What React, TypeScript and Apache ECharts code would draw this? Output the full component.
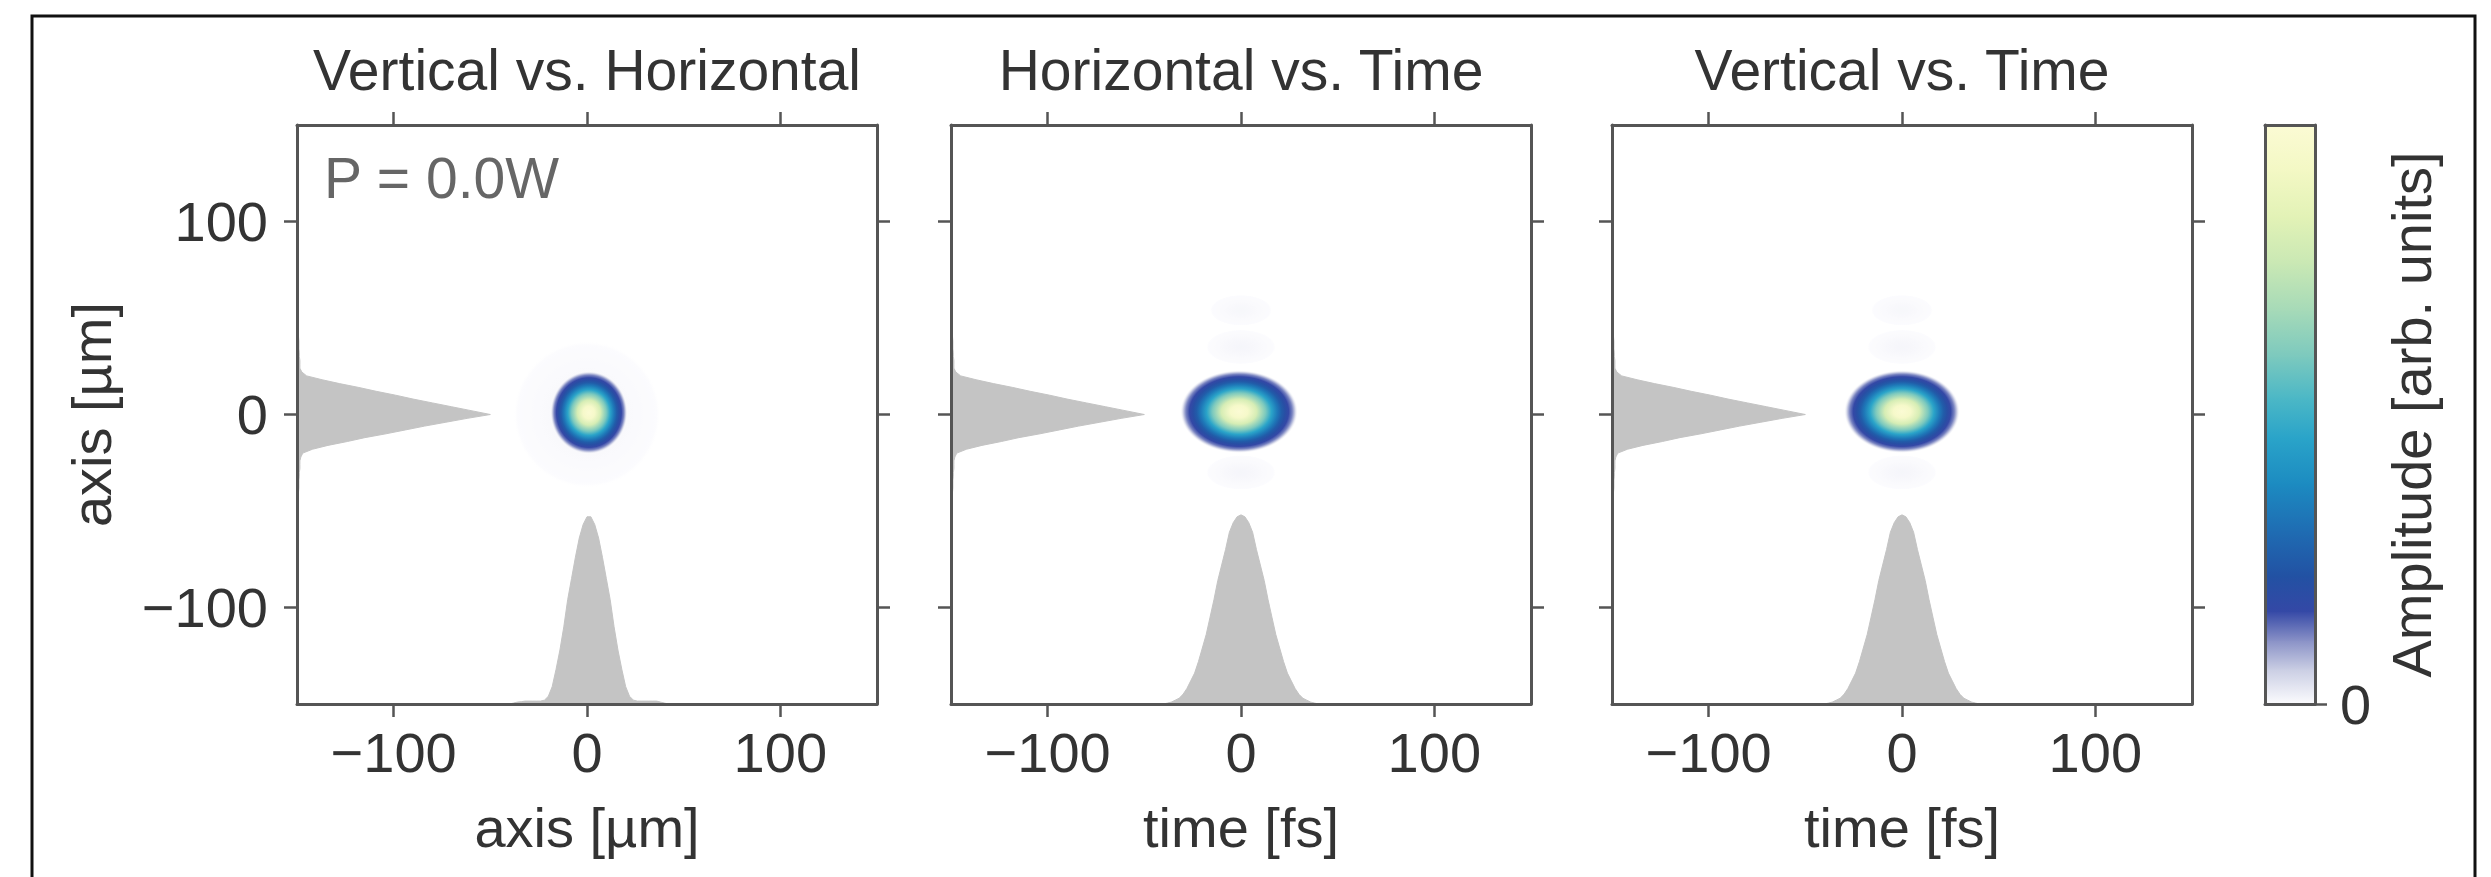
import React, { useEffect, useRef } from "react";
import * as echarts from "echarts";

// ---------- axes & text ----------
const AXIS_MIN = -150;
const AXIS_MAX = 150;
const tickValues = [-100, 0, 100];

const panelTitles = ["Vertical vs. Horizontal", "Horizontal vs. Time", "Vertical vs. Time"];
const panelXNames = ["axis [µm]", "time [fs]", "time [fs]"];
const panelYName = "axis [µm]";
const annotation = "P = 0.0W";
const colorbarName = "Amplitude [arb. units]";
const colorbarTickValues = [0];

// ---------- colormap (bottom = 0, top = 1) ----------
const cmapPos = [0, 0.06, 0.11, 0.16, 0.22, 0.3, 0.38, 0.46, 0.53, 0.6, 0.68, 0.76, 0.84, 0.92, 1];
const cmapColors = [
  "#fcfcfe", "#c9cde3", "#8890c6", "#3448a6", "#2251a3", "#1f6db3", "#1c8bc1",
  "#2aa4c9", "#4db8c6", "#7cc9be", "#a6dab8", "#c9e8b4", "#e2f2b6", "#f3f8c4", "#fbfbd4",
];

// ---------- beam spot radial amplitude profile (fraction of outer radius) ----------
const spotRadius = [0, 0.15, 0.3, 0.45, 0.55, 0.65, 0.72, 0.78, 0.84, 0.9, 0.95, 1];
const spotAmplitude = [1, 0.95, 0.8, 0.6, 0.46, 0.33, 0.25, 0.2, 0.16, 0.12, 0.05, 0];

// [centre x, centre y, outer half-width x, outer half-width y, peak amplitude]
const spotsVertHoriz = [
  [0, 0, 38, 38, 0.008],
  [1, 1, 20, 21.5, 1],
];
const spotsHorizTime = [
  [0, 54, 16, 8, 0.006],
  [0, 35, 18, 9, 0.008],
  [0, -30, 18, 9, 0.008],
  [-1, 1.5, 30.5, 21.5, 1],
];
const spotsVertTime = [
  [0, 54, 16, 8, 0.006],
  [0, 35, 18, 9, 0.008],
  [0, -30, 18, 9, 0.008],
  [0, 1.5, 30, 21.5, 1],
];

// ---------- marginal histograms (bin centre, count) ----------
const leftMarginBins = [
  -44, -42, -40, -38, -36, -34, -32, -30, -28, -26, -24, -22, -20, -18, -16, -14, -12, -10, -8, -6, -4, -2,
  0, 2, 4, 6, 8, 10, 12, 14, 16, 18, 20, 22, 24, 26, 28, 30, 32, 34, 36, 38, 40, 42, 44,
];
const leftMarginCounts = [
  0, 0.5, 0.8, 1, 1, 1, 1.2, 1.2, 1.5, 1.5, 1.5, 2, 3, 8, 16, 26, 35, 46, 56, 66, 77, 88,
  100, 90, 80, 70, 60, 51, 41, 32, 22, 13, 5, 2.5, 1.5, 1.5, 1.5, 1.2, 1.2, 1, 1, 1, 0.8, 0.5, 0,
];
const horizontalBins = [
  -40, -38, -36, -34, -32, -30, -28, -26, -24, -22, -20, -18, -16, -14, -12, -10, -8, -6, -4, -2,
  0, 2, 4, 6, 8, 10, 12, 14, 16, 18, 20, 22, 24, 26, 28, 30, 32, 34, 36, 38, 40, 42,
];
const horizontalCounts = [
  0, 0.5, 1, 1.2, 1.5, 1.5, 1.5, 1.5, 1.5, 2, 4, 9, 18, 28, 40, 54, 65, 76, 86, 93,
  97, 97, 93, 86, 76, 65, 54, 40, 28, 18, 9, 4, 2, 1.5, 1.5, 1.5, 1.5, 1.5, 1.5, 1, 0.5, 0,
];
const timeBins = [
  -40, -38, -36, -34, -32, -30, -28, -26, -24, -22, -20, -18, -16, -14, -12, -10, -8, -6, -4, -2,
  0, 2, 4, 6, 8, 10, 12, 14, 16, 18, 20, 22, 24, 26, 28, 30, 32, 34, 36, 38, 40,
];
const timeCounts = [
  0, 0.5, 1, 2, 3, 5, 8, 12, 16, 22, 29, 36, 45, 54, 64, 72, 80, 89, 94, 97,
  98, 97, 94, 89, 80, 72, 64, 54, 45, 36, 29, 22, 16, 12, 8, 5, 3, 2, 1, 0.5, 0,
];

// ---------- layout ----------
const W = 2491;
const H = 877;
const PANEL_LEFT = [297, 951, 1612];
const PANEL_TOP = 125;
const PANEL_W = 580;
const PANEL_H = 579;
const CBAR_LEFT = 2265;
const CBAR_W = 50;
const FONT = "Liberation Sans, Arial, Helvetica, sans-serif";
const TEXT = "#333333";
const AXIS_COLOR = "#555555";
const HIST_COLOR = "#c4c4c4";

function hexToRgb(h: string) {
  const n = parseInt(h.slice(1), 16);
  return [(n >> 16) & 255, (n >> 8) & 255, n & 255];
}
function cmap(v: number) {
  const x = Math.max(0, Math.min(1, v));
  for (let i = 0; i < cmapPos.length - 1; i++) {
    if (x <= cmapPos[i + 1]) {
      const t = (x - cmapPos[i]) / (cmapPos[i + 1] - cmapPos[i]);
      const a = hexToRgb(cmapColors[i]);
      const b = hexToRgb(cmapColors[i + 1]);
      const c = a.map((ai, k) => Math.round(ai + (b[k] - ai) * t));
      return `rgb(${c[0]},${c[1]},${c[2]})`;
    }
  }
  return cmapColors[cmapColors.length - 1];
}
const fmt = (v: number) => (v < 0 ? "\u2212" + Math.abs(v) : String(v));

function spotRender(params: any, api: any) {
  const c = api.coord([api.value(0), api.value(1)]);
  const s = api.size([api.value(2), api.value(3)]);
  const peak = api.value(4);
  const stops = spotRadius.map((r, i) => ({
    offset: r,
    color: i === spotRadius.length - 1 ? "rgba(255,255,255,0)" : cmap(spotAmplitude[i] * peak),
  }));
  return {
    type: "ellipse",
    shape: { cx: c[0], cy: c[1], rx: s[0], ry: s[1] },
    style: { fill: new echarts.graphic.RadialGradient(0.5, 0.5, 0.5, stops) },
  };
}

// histogram outline drawn as one filled polygon through the bin centres
function histRender(orient: "bottom" | "left", bins: number[], counts: number[]) {
  return (params: any, api: any) => {
    if (params.dataIndex !== 0) return null;
    const pts: number[][] = [];
    if (orient === "bottom") {
      pts.push(api.coord([bins[0], AXIS_MIN]));
      bins.forEach((b, i) => pts.push(api.coord([b, AXIS_MIN + counts[i]])));
      pts.push(api.coord([bins[bins.length - 1], AXIS_MIN]));
    } else {
      pts.push(api.coord([AXIS_MIN, bins[0]]));
      bins.forEach((b, i) => pts.push(api.coord([AXIS_MIN + counts[i], b])));
      pts.push(api.coord([AXIS_MIN, bins[bins.length - 1]]));
    }
    return {
      type: "polygon",
      shape: { points: pts },
      style: { fill: HIST_COLOR, stroke: HIST_COLOR, lineWidth: 1 },
    };
  };
}

function colorbarRender(params: any, api: any) {
  const i = params.dataIndex;
  if (i >= cmapPos.length - 1) return null;
  const lo = api.coord([0, cmapPos[i]]);
  const hi = api.coord([1, cmapPos[i + 1]]);
  return {
    type: "rect",
    shape: { x: lo[0], y: hi[1] - 0.5, width: hi[0] - lo[0], height: lo[1] - hi[1] + 1 },
    style: {
      fill: new echarts.graphic.LinearGradient(0, 1, 0, 0, [
        { offset: 0, color: cmapColors[i] },
        { offset: 1, color: cmapColors[i + 1] },
      ]),
    },
  };
}

function buildOption() {
  const grid: any[] = [];
  const xAxis: any[] = [];
  const yAxis: any[] = [];
  const series: any[] = [];
  const spotSets = [spotsVertHoriz, spotsHorizTime, spotsVertTime];
  const bottomHists: [number[], number[]][] = [
    [horizontalBins, horizontalCounts],
    [timeBins, timeCounts],
    [timeBins, timeCounts],
  ];

  const axisLine = { show: true, onZero: false, lineStyle: { color: AXIS_COLOR, width: 3 } };
  const axisTick = (show: boolean) => ({
    show,
    inside: false,
    length: 13,
    customValues: tickValues,
    lineStyle: { color: AXIS_COLOR, width: 2.5 },
  });
  const labelStyle = { color: TEXT, fontSize: 56, fontFamily: FONT };

  for (let p = 0; p < 3; p++) {
    grid.push({ left: PANEL_LEFT[p], top: PANEL_TOP, width: PANEL_W, height: PANEL_H });
    const base = { type: "value", min: AXIS_MIN, max: AXIS_MAX, gridIndex: p, splitLine: { show: false }, z: 5 };
    xAxis.push({
      ...base,
      position: "bottom",
      axisLine,
      axisTick: axisTick(true),
      axisLabel: { ...labelStyle, margin: 20, customValues: tickValues, formatter: fmt },
      name: panelXNames[p],
      nameLocation: "middle",
      nameGap: 95,
      nameTextStyle: labelStyle,
    });
    xAxis.push({
      ...base,
      position: "top",
      axisLine,
      axisTick: axisTick(true),
      axisLabel: { show: false },
    });
    yAxis.push({
      ...base,
      position: "left",
      axisLine,
      axisTick: axisTick(true),
      axisLabel:
        p === 0
          ? { ...labelStyle, margin: 29, customValues: tickValues, formatter: fmt }
          : { show: false },
      ...(p === 0
        ? { name: panelYName, nameLocation: "middle", nameRotate: 90, nameGap: 178, nameTextStyle: labelStyle }
        : {}),
    });
    yAxis.push({
      ...base,
      position: "right",
      axisLine,
      axisTick: axisTick(true),
      axisLabel: { show: false },
    });

    const xi = p * 2;
    const yi = p * 2;
    series.push({
      type: "custom",
      name: `left-marginal-${p}`,
      xAxisIndex: xi,
      yAxisIndex: yi,
      clip: true,
      renderItem: histRender("left", leftMarginBins, leftMarginCounts),
      data: leftMarginBins.map((b, i) => [leftMarginCounts[i] + AXIS_MIN, b]),
      silent: true,
    });
    const [bins, counts] = bottomHists[p];
    series.push({
      type: "custom",
      name: `bottom-marginal-${p}`,
      xAxisIndex: xi,
      yAxisIndex: yi,
      clip: true,
      renderItem: histRender("bottom", bins, counts),
      data: bins.map((b, i) => [b, counts[i] + AXIS_MIN]),
      silent: true,
    });
    series.push({
      type: "custom",
      name: `spot-${p}`,
      xAxisIndex: xi,
      yAxisIndex: yi,
      clip: true,
      renderItem: spotRender,
      data: spotSets[p],
      silent: true,
    });
  }

  // colour bar
  grid.push({ left: CBAR_LEFT, top: PANEL_TOP, width: CBAR_W, height: PANEL_H });
  const cbBase = { type: "value", min: 0, max: 1, gridIndex: 3, splitLine: { show: false }, z: 5 };
  xAxis.push({ ...cbBase, position: "bottom", axisLine, axisTick: { show: false }, axisLabel: { show: false } });
  xAxis.push({ ...cbBase, position: "top", axisLine, axisTick: { show: false }, axisLabel: { show: false } });
  yAxis.push({ ...cbBase, position: "left", axisLine, axisTick: { show: false }, axisLabel: { show: false } });
  yAxis.push({
    ...cbBase,
    position: "right",
    axisLine,
    axisTick: { show: true, length: 12, customValues: colorbarTickValues, lineStyle: { color: AXIS_COLOR, width: 2.5 } },
    axisLabel: { ...labelStyle, margin: 25, customValues: colorbarTickValues, formatter: fmt },
    name: colorbarName,
    nameLocation: "middle",
    nameRotate: 90,
    nameGap: 68,
    nameTextStyle: labelStyle,
  });
  series.push({
    type: "custom",
    name: "colorbar",
    xAxisIndex: 6,
    yAxisIndex: 6,
    renderItem: colorbarRender,
    data: cmapPos.map((v, i) => [i / (cmapPos.length - 1), v]),
    silent: true,
  });

  const graphic: any[] = [
    {
      type: "rect",
      shape: { x: 32, y: 16, width: 2443, height: 920 },
      style: { fill: "none", stroke: "#111111", lineWidth: 3 },
      silent: true,
    },
    ...panelTitles.map((t, p) => ({
      type: "text",
      x: PANEL_LEFT[p] + PANEL_W / 2,
      y: 70,
      style: { text: t, fill: TEXT, fontSize: 57, fontFamily: FONT, align: "center", verticalAlign: "middle" },
      silent: true,
    })),
    {
      type: "text",
      x: 324,
      y: 178,
      style: { text: annotation, fill: "#666666", fontSize: 57, fontFamily: FONT, align: "left", verticalAlign: "middle" },
      silent: true,
    },
  ];

  return {
    animation: false,
    backgroundColor: "#ffffff",
    textStyle: { fontFamily: FONT },
    grid,
    xAxis,
    yAxis,
    series,
    graphic,
  };
}

export default function App() {
  const ref = useRef<HTMLDivElement>(null);
  useEffect(() => {
    if (!ref.current) return;
    const chart = echarts.init(ref.current, null, { renderer: "svg", width: W, height: H });
    chart.setOption(buildOption() as any);
    return () => chart.dispose();
  }, []);
  return (
    <div
      ref={ref}
      style={{ position: "fixed", left: 0, top: 0, width: W, height: H, background: "#ffffff" }}
    />
  );
}
